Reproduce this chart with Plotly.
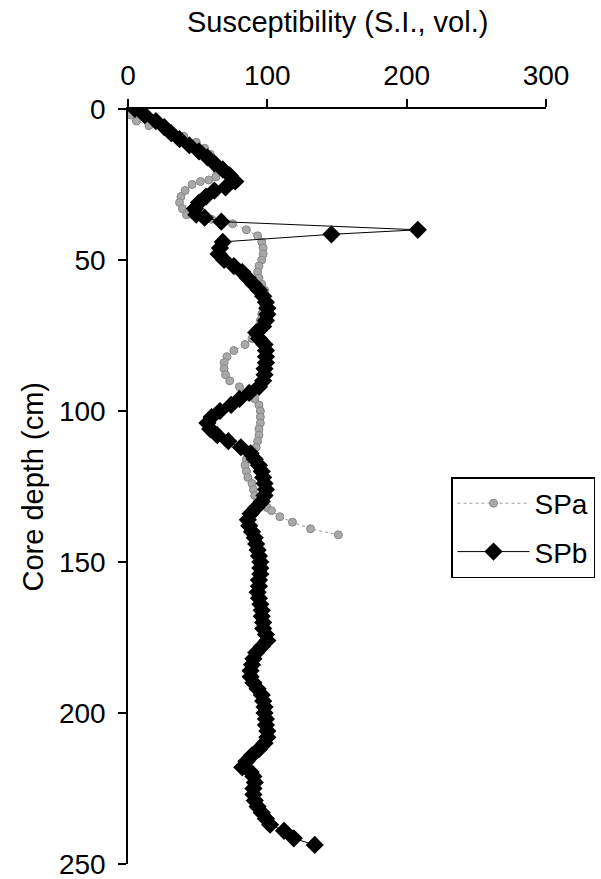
import plotly.graph_objects as go

# SPb (black diamonds)
spb_depth = [0, 2, 4, 6, 8, 10, 12, 14, 16, 18, 20, 22, 24, 26, 27, 29, 31, 33, 35, 36,
             37.3, 40, 41.5, 44, 46, 48, 50, 52, 54, 56, 58, 60, 62, 64, 66, 68, 70, 72, 74, 76,
             78, 80, 82, 84, 86, 88, 90, 92, 94, 96, 98, 100, 102, 104, 106, 108, 110, 112, 114, 116,
             118, 120, 122, 124, 126, 128, 130, 132, 134, 136, 138, 140, 142, 144, 146, 148, 150, 152, 154, 156,
             158, 160, 162, 164, 166, 168, 170, 172, 174, 176, 178, 180, 182, 184, 186, 188, 190, 192, 194, 196,
             198, 200, 202, 204, 206, 208, 210, 212, 214, 216, 218, 219.5, 221, 223, 225, 227, 229, 231, 233, 235,
             237, 239, 241.5, 243.7]
spb_value = [5, 12, 20, 26, 31, 37, 44, 51, 57, 62, 68, 73, 77, 70, 62, 56, 51, 48, 49, 55,
             67, 208, 146, 68, 66, 65, 69, 76, 82, 86, 90, 94, 97, 99, 100, 100, 99, 97, 92, 94,
             98, 99, 99, 99, 98, 98, 97, 94, 87, 80, 74, 66, 60, 57, 59, 64, 72, 81, 88, 91,
             94, 96, 97, 98, 99, 98, 96, 92, 88, 86, 87, 89, 91, 92, 93, 94, 95, 95, 95, 94,
             94, 93, 94, 95, 96, 96, 97, 97, 99, 100, 96, 92, 90, 89, 88, 88, 90, 93, 96, 97,
             98, 98, 99, 99, 100, 100, 98, 94, 89, 85, 82, 88, 90, 91, 90, 90, 91, 93, 96, 99,
             102, 112, 119, 134]

# SPa (grey dots)
spa_depth = [0, 2, 4, 5.5, 7, 9, 11, 13, 15, 17, 19, 21, 22.5, 23.5, 24, 25, 27, 29, 31, 33,
             35, 35.7, 36.5, 38, 40, 42, 44, 46, 48, 50, 52, 54, 56, 58, 60, 62, 64, 66, 68, 70,
             72, 74, 76, 78, 80, 82, 84, 86, 88, 90, 92, 94, 96, 98, 100, 102, 104, 106, 108, 110,
             112, 114, 116, 118, 120, 122, 124, 126, 128, 130, 132, 133, 135, 136.8, 139, 141]
spa_value = [1, 2, 6, 15, 30, 40, 49, 55, 59, 62, 65, 64, 63, 58, 52, 46, 41, 38, 37, 39,
             42, 50, 60, 75, 85, 93, 96, 97, 97, 96, 94, 93, 94, 96, 98, 99, 98, 97, 96, 95,
             94, 92, 89, 84, 76, 71, 69, 69, 70, 73, 80, 87, 91, 94, 95, 95, 95, 94, 94, 93,
             92, 87, 85, 84, 85, 86, 89, 90, 91, 95, 100, 103, 109, 118, 131, 151]

x_ticks = [0, 100, 200, 300]
y_ticks = [0, 50, 100, 150, 200, 250]

FONT = "Liberation Sans, Arial, sans-serif"
L, R, T, B = 128, 55, 109, 15
W, H = 601, 879
PW, PH = W - L - R, H - T - B

fig = go.Figure()
fig.add_trace(go.Scatter(
    x=spa_value, y=spa_depth, name="SPa", mode="lines+markers", legendgroup="a",
    line=dict(color="#9a9a9a", width=1, dash="dot"),
    marker=dict(symbol="circle", size=8, color="#a8a8a8", line=dict(color="#888888", width=1)),
))
fig.add_trace(go.Scatter(
    x=spb_value, y=spb_depth, name="SPb", mode="lines+markers", legendgroup="b",
    line=dict(color="black", width=1),
    marker=dict(symbol="diamond", size=14, color="black"),
))

fig.update_layout(
    width=W, height=H,
    margin=dict(l=L, r=R, t=T, b=B, autoexpand=False),
    paper_bgcolor="white", plot_bgcolor="white",
    font=dict(family=FONT, size=28, color="black"),
    showlegend=True,
    legend=dict(
        x=(451 - L) / PW, y=1 - (477 - T) / PH, xanchor="left", yanchor="top",
        bordercolor="black", borderwidth=1.5, bgcolor="white",
        font=dict(size=28), itemwidth=72, tracegroupgap=9, entrywidth=76,
    ),
    xaxis=dict(
        side="top", range=[0, 300], tickvals=x_ticks, showgrid=False, zeroline=False,
        showline=True, linecolor="black", linewidth=1.5,
        ticks="outside", ticklen=8, tickwidth=1.5, tickcolor="black",
        tickfont=dict(size=28), ticklabelstandoff=3, automargin=False,
        ticklabeloverflow="allow",
    ),
    yaxis=dict(
        range=[250, 0], tickvals=y_ticks, showgrid=False, zeroline=False,
        showline=True, linecolor="black", linewidth=1.5,
        ticks="outside", ticklen=8, tickwidth=1.5, tickcolor="black",
        tickfont=dict(size=28), ticklabelstandoff=7, automargin=False,
        ticklabeloverflow="allow",
    ),
    annotations=[
        dict(text="Susceptibility (S.I., vol.)", xref="paper", yref="paper",
             x=0.5, y=1 + (T - 22) / PH, xanchor="center", yanchor="middle",
             showarrow=False, font=dict(size=29)),
        dict(text="Core depth (cm)", xref="paper", yref="paper",
             x=(32 - L) / PW, y=0.5, xanchor="center", yanchor="middle", textangle=-90,
             showarrow=False, font=dict(size=29)),
    ],
)

fig.write_html("out.html")
